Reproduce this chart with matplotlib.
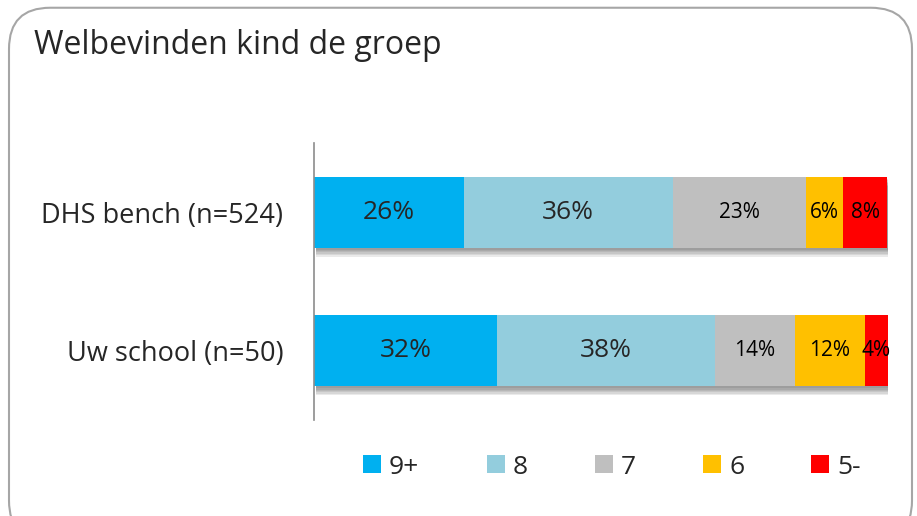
''' stacked bar: welbevinden kind de groep '''

import numpy as np
import matplotlib
matplotlib.use('Agg')
import matplotlib.pyplot as plt
import matplotlib.patheffects as pe
from matplotlib.patches import FancyBboxPatch, Patch

#%% data

groups = ['DHS bench (n=524)', 'Uw school (n=50)']
cats = ['9+', '8', '7', '6', '5-']
colors = ['#00b0f0', '#93cddd', '#bfbfbf', '#ffc000', '#ff0000']

# shares per group
bench = [26.1, 36.4, 23.3, 6.3, 7.8]
school = [31.9, 38.0, 13.9, 12.2, 4.0]
bench_lbl = ['26%', '36%', '23%', '6%', '8%']
school_lbl = ['32%', '38%', '14%', '12%', '4%']

plt.rcParams['font.family'] = ['Open Sans', 'DejaVu Sans']

#%% plot

fig = plt.figure(figsize=(9.17, 5.16), dpi=100)
ax = fig.add_axes([314/917, 96/516, 574/917, 277/516])

vals = np.array([bench, school])
lbls = [bench_lbl, school_lbl]
ypos = [1, 0]

# soft shadow: a few faint offset copies
shadow = [pe.SimplePatchShadow(offset=(1.5, -k), shadow_rgbFace='#404040', alpha=0.11)
          for k in (1.5, 2.5, 3.5, 4.5, 5.5, 6.5)] + [pe.Normal()]

left = np.zeros(2)
for j, c in enumerate(cats):
    bars = ax.barh(ypos, vals[:, j], left=left, height=0.51, color=colors[j],
                   label=c, zorder=2)
    for b in bars:
        b.set_path_effects(shadow)
    for i in range(2):
        big = j < 2
        ax.text(left[i] + vals[i, j] / 2, ypos[i], lbls[i][j],
                ha='center', va='center', zorder=5,
                fontsize=19 if big else 15,
                color='#262626' if big else 'black')
    left += vals[:, j]

ax.set_xlim(0, 100)
ax.set_ylim(-0.5, 1.5)
ax.set_yticks(ypos)
ax.set_yticklabels(groups, fontsize=19.5, color='#262626')
ax.tick_params(axis='y', length=0, pad=22)
ax.set_xticks([])
for s in ['top', 'right', 'bottom']:
    ax.spines[s].set_visible(False)
ax.spines['left'].set_color('#8c8c8c')
ax.spines['left'].set_linewidth(1.2)

# legend
handles = [Patch(facecolor=c, edgecolor='none') for c in colors]
fig.legend(handles, cats, loc='center', bbox_to_anchor=(612/917, 1 - 467/516),
           ncol=5, frameon=False, fontsize=19, handlelength=0.68, handleheight=0.68,
           handletextpad=0.3, columnspacing=2.55, labelcolor='#262626')

# title
fig.text(34/917, 1 - 45/516, 'Welbevinden kind de groep', fontsize=23,
         color='#262626', va='center', ha='left')

# rounded frame
frame = FancyBboxPatch((9/917, -0.05), 903/917, 1.035, boxstyle='round,pad=0,rounding_size=0.045',
                       transform=fig.transFigure, facecolor='none', edgecolor='#a6a6a6',
                       linewidth=1.5, mutation_aspect=917/516)
fig.patches.append(frame)

fig.savefig('out.png', dpi=100)
